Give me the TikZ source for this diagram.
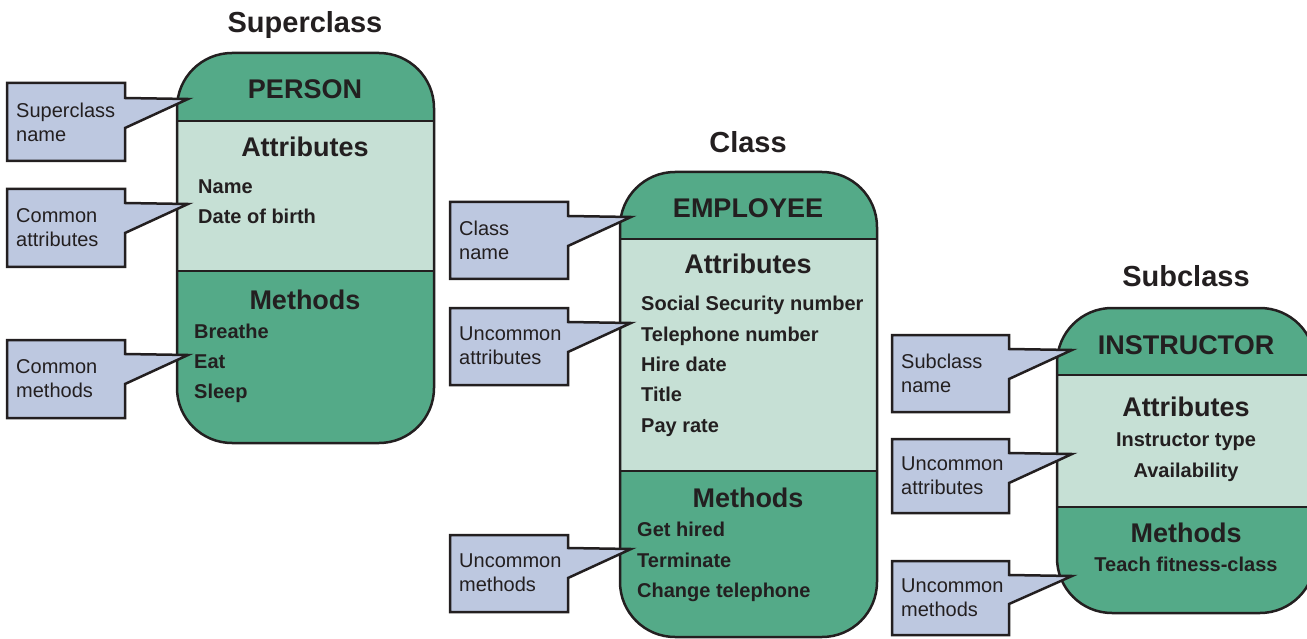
\documentclass[tikz,border=0pt]{standalone}
\usepackage{fontspec}
\setmainfont{Liberation Sans}
\definecolor{dkgreen}{HTML}{54AA88}
\definecolor{ltgreen}{HTML}{C6E0D5}
\definecolor{callblue}{HTML}{BDC8E0}
\definecolor{ink}{HTML}{231F20}
\tikzset{
  hdr/.style={font=\fontsize{27}{32}\selectfont\bfseries, text=ink, inner sep=0pt, text height=19.3pt, text depth=0pt},
  ttl/.style={font=\fontsize{29}{34}\selectfont\bfseries, text=ink, inner sep=0pt, text height=20.8pt, text depth=0pt},
  item/.style={font=\fontsize{20}{24}\selectfont\bfseries, text=ink, anchor=west, inner sep=0pt, text height=14.4pt, text depth=0pt},
  ctext/.style={font=\fontsize{20}{24}\selectfont, text=ink, anchor=west, align=left, inner sep=0pt},
  outline/.style={draw=ink, line width=2.5pt},
  callout/.style={fill=callblue, draw=ink, line width=2.5pt, line join=miter},
  classbox/.style={outline, rounded corners=55pt},
}
\begin{document}
\begin{tikzpicture}[x=1pt,y=-1pt]
\useasboundingbox (0,0) rectangle (1307,639);
\clip (0,0) rectangle (1307,639);

% ===== PERSON =====
\begin{scope}
  \clip[rounded corners=55pt] (177,53) rectangle (434,443);
  \fill[dkgreen] (177,53) rectangle (434,121);
  \fill[ltgreen] (177,121) rectangle (434,271);
  \fill[dkgreen] (177,271) rectangle (434,443);
\end{scope}
\draw[classbox] (177,53) rectangle (434,443);
\draw[outline] (177,121) -- (434,121);
\draw[outline] (177,271) -- (434,271);
\node[ttl] (t1) at (305,22) {Superclass};
\node[hdr] (n1) at (305,89) {PERSON};
\node[hdr] (a1) at (305,147) {Attributes};
\node[item] (a1i1) at (198,186) {Name};
\node[item] (a1i2) at (198,216) {Date of birth};
\node[hdr] (m1) at (305,300) {Methods};
\node[item] (m1i1) at (194,331) {Breathe};
\node[item] (m1i2) at (194,361) {Eat};
\node[item] (m1i3) at (194,391) {Sleep};

\coordinate (tp1) at (188,99);
\coordinate (tp2) at (188,204);
\coordinate (tp3) at (188,355);
\draw[callout] (7,83) -- (125,83) -- (125,98) -- (tp1) -- (125,128) -- (125,161) -- (7,161) -- cycle;
\draw[callout] (7,189) -- (125,189) -- (125,203) -- (tp2) -- (125,233) -- (125,267) -- (7,267) -- cycle;
\draw[callout] (7,340) -- (125,340) -- (125,354) -- (tp3) -- (125,384) -- (125,418) -- (7,418) -- cycle;
\node[ctext] (c1) at (16,122) {Superclass\\name};
\node[ctext] (c2) at (16,228) {Common\\attributes};
\node[ctext] (c3) at (16,379) {Common\\methods};

% ===== EMPLOYEE =====
\begin{scope}
  \clip[rounded corners=55pt] (620,172) rectangle (877,637);
  \fill[dkgreen] (620,172) rectangle (877,239);
  \fill[ltgreen] (620,239) rectangle (877,471);
  \fill[dkgreen] (620,471) rectangle (877,637);
\end{scope}
\draw[classbox] (620,172) rectangle (877,637);
\draw[outline] (620,239) -- (877,239);
\draw[outline] (620,471) -- (877,471);
\node[ttl] (t2) at (748,142) {Class};
\node[hdr] (n2) at (748,208) {EMPLOYEE};
\node[hdr] (a2) at (748,264) {Attributes};
\node[item] (a2i1) at (641,303) {Social Security number};
\node[item] (a2i2) at (641,334) {Telephone number};
\node[item] (a2i3) at (641,364) {Hire date};
\node[item] (a2i4) at (641,394) {Title};
\node[item] (a2i5) at (641,425) {Pay rate};
\node[hdr] (m2) at (748,498) {Methods};
\node[item] (m2i1) at (637,529) {Get hired};
\node[item] (m2i2) at (637,560) {Terminate};
\node[item] (m2i3) at (637,590) {Change telephone};

\coordinate (tp4) at (631,217);
\coordinate (tp5) at (631,323);
\coordinate (tp6) at (631,549);
\draw[callout] (450,202) -- (568,202) -- (568,216) -- (tp4) -- (568,246) -- (568,279) -- (450,279) -- cycle;
\draw[callout] (450,308) -- (568,308) -- (568,322) -- (tp5) -- (568,352) -- (568,385) -- (450,385) -- cycle;
\draw[callout] (450,535) -- (568,535) -- (568,548) -- (tp6) -- (568,578) -- (568,612) -- (450,612) -- cycle;
\node[ctext] (c4) at (459,240) {Class\\name};
\node[ctext] (c5) at (459,346) {Uncommon\\attributes};
\node[ctext] (c6) at (459,573) {Uncommon\\methods};

% ===== INSTRUCTOR =====
\begin{scope}
  \clip[rounded corners=55pt] (1057,308) rectangle (1315,613);
  \fill[dkgreen] (1057,308) rectangle (1315,375);
  \fill[ltgreen] (1057,375) rectangle (1315,507);
  \fill[dkgreen] (1057,507) rectangle (1315,613);
\end{scope}
\draw[classbox] (1057,308) rectangle (1315,613);
\draw[outline] (1057,375) -- (1315,375);
\draw[outline] (1057,507) -- (1315,507);
\node[ttl] (t3) at (1186,276) {Subclass};
\node[hdr] (n3) at (1186,345) {INSTRUCTOR};
\node[hdr] (a3) at (1186,407) {Attributes};
\node[item, anchor=center] (a3i1) at (1186,439) {Instructor type};
\node[item, anchor=center] (a3i2) at (1186,470) {Availability};
\node[hdr] (m3) at (1186,533) {Methods};
\node[item, anchor=center] (m3i1) at (1186,564) {Teach fitness-class};

\coordinate (tp7) at (1072,350);
\coordinate (tp8) at (1072,454);
\coordinate (tp9) at (1072,576);
\draw[callout] (892,335) -- (1009,335) -- (1009,349) -- (tp7) -- (1009,379) -- (1009,412) -- (892,412) -- cycle;
\draw[callout] (892,439) -- (1009,439) -- (1009,453) -- (tp8) -- (1009,483) -- (1009,513) -- (892,513) -- cycle;
\draw[callout] (892,561) -- (1009,561) -- (1009,575) -- (tp9) -- (1009,604) -- (1009,635) -- (892,635) -- cycle;
\node[ctext] (c7) at (901,373) {Subclass\\name};
\node[ctext] (c8) at (901,476) {Uncommon\\attributes};
\node[ctext] (c9) at (901,598) {Uncommon\\methods};
\end{tikzpicture}
\end{document}
